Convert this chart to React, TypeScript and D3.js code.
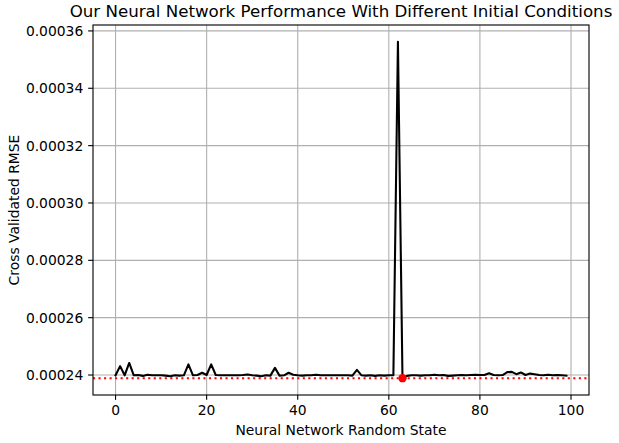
import React from "react";
import * as d3 from "d3";

const randomStates: number[] = d3.range(0, 100);
const rmseValues: number[] = [
  0.0002399, 0.0002431, 0.0002399, 0.0002442, 0.0002399, 0.00024, 0.0002397, 0.0002401, 0.0002399, 0.0002399,
  0.0002399, 0.0002398, 0.0002396, 0.0002399, 0.0002398, 0.0002399, 0.0002437, 0.0002399, 0.00024, 0.0002408,
  0.00024, 0.0002437, 0.00024, 0.0002399, 0.0002399, 0.0002399, 0.0002399, 0.0002399, 0.00024, 0.0002402,
  0.0002399, 0.0002398, 0.0002396, 0.0002399, 0.0002398, 0.0002425, 0.0002398, 0.0002399, 0.0002408, 0.0002401,
  0.0002399, 0.0002398, 0.0002399, 0.0002399, 0.0002401, 0.0002399, 0.0002399, 0.0002399, 0.0002399, 0.0002399,
  0.0002399, 0.0002399, 0.0002398, 0.0002418, 0.0002399, 0.0002398, 0.0002399, 0.0002397, 0.0002399, 0.0002398,
  0.0002399, 0.0002399, 0.0003562, 0.0002389, 0.0002397, 0.0002399, 0.0002399, 0.0002398, 0.0002399, 0.0002399,
  0.0002401, 0.0002399, 0.00024, 0.0002397, 0.0002398, 0.0002399, 0.00024, 0.0002399, 0.00024, 0.0002401,
  0.00024, 0.00024, 0.0002406, 0.00024, 0.0002399, 0.00024, 0.000241, 0.0002411, 0.0002403, 0.0002409,
  0.00024, 0.0002405, 0.0002403, 0.00024, 0.0002399, 0.0002401, 0.0002399, 0.00024, 0.0002399, 0.0002398,
];
const xTicks: number[] = [0, 20, 40, 60, 80, 100];
const yTicks: number[] = [0.00024, 0.00026, 0.00028, 0.0003, 0.00032, 0.00034, 0.00036];
const titleText = "Our Neural Network Performance With Different Initial Conditions";
const xLabelText = "Neural Network Random State";
const yLabelText = "Cross Validated RMSE";

const W = 619;
const H = 443;
const L = 93;
const R = 589;
const T = 25;
const B = 395;
const PT = 100 / 72;
const FONT = "DejaVu Sans, sans-serif";

export default function App() {
  const xMin = d3.min(randomStates)!;
  const xMax = d3.max(randomStates)!;
  const xPad = (xMax - xMin) * 0.05;
  const x = d3.scaleLinear().domain([xMin - xPad, xMax + xPad]).range([L, R]);

  const yMin = d3.min(rmseValues)!;
  const yMax = d3.max(rmseValues)!;
  const yPad = (yMax - yMin) * 0.05;
  const y = d3.scaleLinear().domain([yMin - yPad, yMax + yPad]).range([B, T]);

  const minIdx = d3.minIndex(rmseValues);

  const line = d3
    .line<number>()
    .x((_, i) => x(randomStates[i]))
    .y((d) => y(d));

  const tickLen = 3.5 * PT;
  const tickPad = 3.5 * PT;
  const lw = 1.5 * PT;
  const thin = 0.8 * PT;
  const fs = 10 * PT;

  return (
    <svg width={W} height={H} style={{ position: "absolute", left: 0, top: 0, background: "#fff" }}>
      <rect x={0} y={0} width={W} height={H} fill="#fff" />
      <defs>
        <clipPath id="ax">
          <rect x={L} y={T} width={R - L} height={B - T} />
        </clipPath>
      </defs>
      {/* grid */}
      <g stroke="#b0b0b0" strokeWidth={thin}>
        {xTicks.map((t) => (
          <line key={"gx" + t} x1={x(t)} x2={x(t)} y1={T} y2={B} />
        ))}
        {yTicks.map((t) => (
          <line key={"gy" + t} x1={L} x2={R} y1={y(t)} y2={y(t)} />
        ))}
      </g>
      <g clipPath="url(#ax)">
        <path
          d={line(rmseValues) || ""}
          fill="none"
          stroke="#000"
          strokeWidth={lw}
          strokeLinejoin="round"
          strokeLinecap="square"
        />
        <line
          x1={L}
          x2={R}
          y1={y(rmseValues[minIdx])}
          y2={y(rmseValues[minIdx])}
          stroke="#ff0000"
          strokeWidth={lw}
          strokeDasharray={`${1 * lw} ${1.65 * lw}`}
        />
        <circle cx={x(randomStates[minIdx])} cy={y(rmseValues[minIdx])} r={3 * PT} fill="#ff0000" />
      </g>
      {/* spines */}
      <rect x={L} y={T} width={R - L} height={B - T} fill="none" stroke="#000" strokeWidth={thin} />
      {/* x ticks */}
      <g>
        {xTicks.map((t) => (
          <g key={"xt" + t}>
            <line x1={x(t)} x2={x(t)} y1={B} y2={B + tickLen} stroke="#000" strokeWidth={thin} />
            <text
              x={x(t)}
              y={B + tickLen + tickPad + fs * 0.76}
              textAnchor="middle"
              fontFamily={FONT}
              fontSize={fs}
              fill="#000"
            >
              {t}
            </text>
          </g>
        ))}
      </g>
      {/* y ticks */}
      <g>
        {yTicks.map((t) => (
          <g key={"yt" + t}>
            <line x1={L - tickLen} x2={L} y1={y(t)} y2={y(t)} stroke="#000" strokeWidth={thin} />
            <text
              x={L - tickLen - tickPad}
              y={y(t)}
              dy="0.36em"
              textAnchor="end"
              fontFamily={FONT}
              fontSize={fs}
              fill="#000"
            >
              {d3.format(".5f")(t)}
            </text>
          </g>
        ))}
      </g>
      <text x={(L + R) / 2} y={17} textAnchor="middle" fontFamily={FONT} fontSize={12 * PT} fill="#000">
        {titleText}
      </text>
      <text x={(L + R) / 2} y={435} textAnchor="middle" fontFamily={FONT} fontSize={fs} fill="#000">
        {xLabelText}
      </text>
      <text
        transform={`translate(18.5, ${(T + B) / 2}) rotate(-90)`}
        textAnchor="middle"
        fontFamily={FONT}
        fontSize={fs}
        fill="#000"
      >
        {yLabelText}
      </text>
    </svg>
  );
}
